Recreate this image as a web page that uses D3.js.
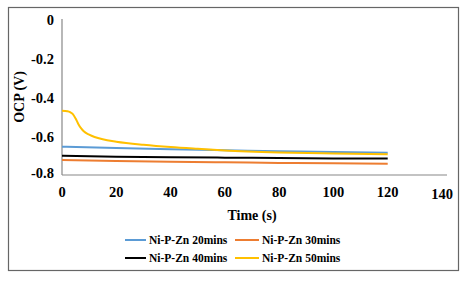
<!DOCTYPE html>
<html><head><meta charset="utf-8">
<script src="https://cdn.jsdelivr.net/npm/d3@7"></script>
<style>body{margin:0;background:#fff}svg{display:block}text{font-family:"Liberation Serif","Times New Roman",serif;font-weight:bold}</style>
</head><body><svg id="c" width="469" height="281"></svg>
<script>
const seriesNames = ["Ni-P-Zn 20mins","Ni-P-Zn 30mins","Ni-P-Zn 40mins","Ni-P-Zn 50mins"];
const colors = ["#5B9BD5","#ED7D31","#000000","#FFC000"];
const times20 = [0,20,40,60,80,100,120];
const ocp20 = [-0.655,-0.662,-0.668,-0.673,-0.678,-0.682,-0.686];
const ocp30 = [-0.723,-0.728,-0.732,-0.735,-0.738,-0.740,-0.742];
const ocp40 = [-0.701,-0.706,-0.709,-0.711,-0.713,-0.715,-0.716];
const times50 = [0,2,3,4,5,6,7,8,10,12,15,20,30,40,50,60,80,100,120];
const ocp50 = [-0.470,-0.473,-0.478,-0.488,-0.510,-0.538,-0.560,-0.576,-0.593,-0.605,-0.617,-0.629,-0.645,-0.657,-0.666,-0.674,-0.684,-0.690,-0.694];
const xTicks = [0,20,40,60,80,100,120,140];
const yTicks = [0,-0.2,-0.4,-0.6,-0.8];

const svg = d3.select("#c");
svg.append("rect").attr("x",8.5).attr("y",7.5).attr("width",450).attr("height",263)
  .attr("fill","#fff").attr("stroke","#666").attr("stroke-width",1.2);

const x = d3.scaleLinear().domain([0,140]).range([62,442]);
const y = d3.scaleLinear().domain([-0.8,0]).range([175,19]);

svg.append("line").attr("x1",62).attr("x2",62).attr("y1",19).attr("y2",175).attr("stroke","#888").attr("stroke-width",1.2);
svg.append("line").attr("x1",62).attr("x2",447).attr("y1",175).attr("y2",175).attr("stroke","#888").attr("stroke-width",1.2);

const fmtY = d => d===0 ? "0" : "-" + d3.format(".1f")(Math.abs(d));
svg.append("g").selectAll("text").data(yTicks).join("text")
  .attr("x",54).attr("y",d=> d===-0.8 ? y(d)-2 : y(d)+1).attr("dy","0.35em").attr("text-anchor","end")
  .attr("font-size",14.5).text(fmtY);
svg.append("g").selectAll("text").data(xTicks).join("text")
  .attr("x",d=>x(d)).attr("y",d=> d===140 ? 199 : 197).attr("text-anchor","middle")
  .attr("font-size",14.5).text(d=>d);

svg.append("text").attr("transform","translate(24,97) rotate(-90)").attr("text-anchor","middle")
  .attr("font-size",14).text("OCP (V)");
svg.append("text").attr("x",252).attr("y",220).attr("text-anchor","middle")
  .attr("font-size",14).text("Time (s)");

const line = d3.line().x(d=>x(d[0])).y(d=>y(d[1])).curve(d3.curveMonotoneX);
const data = [
  d3.zip(times20, ocp20),
  d3.zip(times20, ocp30),
  d3.zip(times20, ocp40),
  d3.zip(times50, ocp50)
];
svg.append("g").selectAll("path").data([0,1,2,3]).join("path")
  .attr("d",i=>line(data[i])).attr("fill","none").attr("stroke",i=>colors[i]).attr("stroke-width",2);

const legPos = [[125,240],[235,240],[125,258],[235,258]];
const lg = svg.append("g");
seriesNames.forEach((n,i)=>{
  const [lx,ly] = legPos[i];
  const w = i%2===0 ? 21 : 24;
  lg.append("line").attr("x1",lx).attr("x2",lx+w).attr("y1",ly).attr("y2",ly).attr("stroke",colors[i]).attr("stroke-width",2);
  lg.append("text").attr("x",lx+w+3).attr("y",ly).attr("dy","0.35em").attr("font-size",11.5).text(n);
});
</script></body></html>
